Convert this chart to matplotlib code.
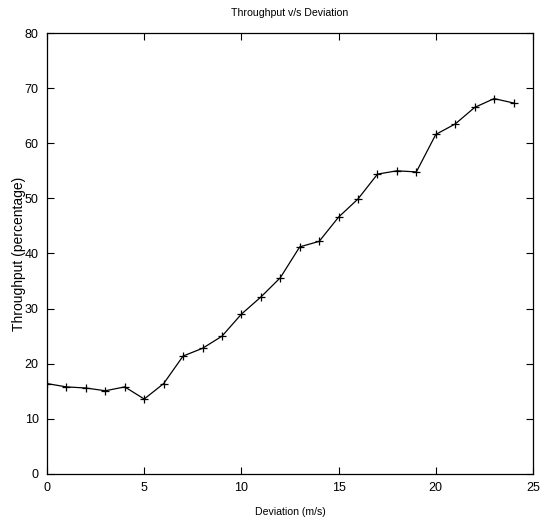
import matplotlib
matplotlib.use("Agg")
import matplotlib.pyplot as plt

plt.rcParams['font.family'] = ['Liberation Sans', 'DejaVu Sans']

# deviation (m/s) vs throughput (%)
deviation = list(range(25))
throughput = [16.4, 15.8, 15.6, 15.1, 15.8, 13.6, 16.4, 21.4, 22.8, 25.0,
              29.0, 32.1, 35.6, 41.2, 42.2, 46.6, 49.9, 54.4, 55.0, 54.8,
              61.6, 63.5, 66.5, 68.1, 67.3]

xticks = [0, 5, 10, 15, 20, 25]
yticks = [0, 10, 20, 30, 40, 50, 60, 70, 80]

fig = plt.figure(figsize=(5.48, 5.23), dpi=100)
ax = fig.add_axes([0.0858, 0.0937, 0.8868, 0.8432])

ax.plot(deviation, throughput, color="black", lw=0.9,
        marker="+", markersize=6, markeredgewidth=0.9)

ax.set_xlim(0, 25)
ax.set_ylim(0, 80)
ax.set_xticks(xticks)
ax.set_yticks(yticks)

# gnuplot look: inward ticks mirrored on all sides
ax.tick_params(direction="in", length=5, width=0.8, top=True, right=True,
               labelsize=9, pad=6)
for s in ax.spines.values():
    s.set_linewidth(0.9)

ax.set_title("Throughput v/s Deviation", fontsize=7.6, pad=12)
ax.set_xlabel("Deviation (m/s)", fontsize=7.6, labelpad=9)
ax.set_ylabel("Throughput (percentage)", fontsize=10)
ax.yaxis.set_label_coords(-0.043, 0.5)

fig.savefig("out.png", dpi=100)
